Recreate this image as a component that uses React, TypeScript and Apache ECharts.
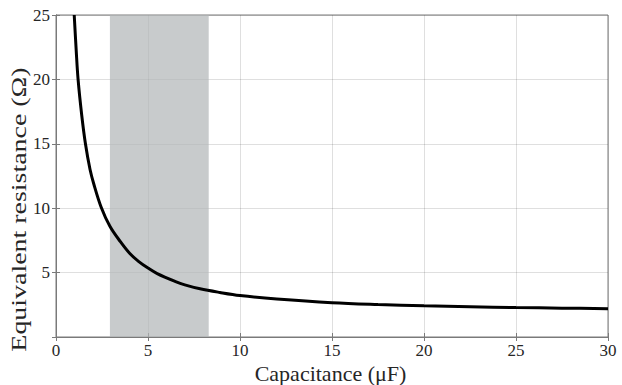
import React, { useEffect, useRef } from "react";
import * as echarts from "echarts";

// Capacitance (µF) and the equivalent resistance (Ω) it gives
const capacitance = [0.99, 1.1, 1.2, 1.4, 1.6, 1.85, 2.05, 2.45, 2.93, 3.5, 4.0, 4.5, 5.0, 5.5, 6.5, 7.0, 7.83, 8.9, 10, 12, 15, 17.5, 20, 22.5, 25, 27.5, 30];
const resistance = [25, 22.2, 20, 17.2, 15, 13.0, 11.9, 10.1, 8.6, 7.4, 6.5, 5.85, 5.35, 4.92, 4.3, 4.05, 3.74, 3.46, 3.22, 2.95, 2.66, 2.52, 2.42, 2.35, 2.29, 2.24, 2.2];

// Highlighted capacitance band (µF)
const bandRange = [2.93, 8.3];

const xTitle = "Capacitance (μF)";
const yTitle = "Equivalent resistance (Ω)";

const SERIF = "Liberation Serif";
const AXIS_COLOR = "#7a7a7a";
const TEXT_COLOR = "#262626";
const GRID_COLOR = "rgba(38,38,38,0.15)";

export default function App() {
  const ref = useRef<HTMLDivElement>(null);

  useEffect(() => {
    if (!ref.current) return;
    const chart = echarts.init(ref.current, undefined, { renderer: "svg" });
    const points = capacitance.map((c, i) => [c, resistance[i]]);

    const tickStyle = { inside: true, length: 4, lineStyle: { color: AXIS_COLOR } };
    const lineStyle = { show: true, lineStyle: { color: AXIS_COLOR, width: 1 } };

    chart.setOption({
      animation: false,
      grid: {
        left: 56,
        right: 14,
        top: 15,
        bottom: 48,
        show: true,
        borderColor: AXIS_COLOR,
        borderWidth: 1,
        backgroundColor: "transparent",
      },
      xAxis: [
        {
          type: "value",
          min: 0,
          max: 30,
          interval: 5,
          axisLine: lineStyle,
          axisTick: tickStyle,
          splitLine: { show: true, lineStyle: { color: GRID_COLOR, width: 1 } },
          axisLabel: { fontFamily: SERIF, fontSize: 17, color: TEXT_COLOR, margin: 5 },
        },
        {
          type: "value",
          position: "top",
          min: 0,
          max: 30,
          interval: 5,
          axisLine: lineStyle,
          axisTick: tickStyle,
          splitLine: { show: false },
          axisLabel: { show: false },
        },
      ],
      yAxis: [
        {
          type: "value",
          min: 0,
          max: 25,
          interval: 5,
          axisLine: lineStyle,
          axisTick: tickStyle,
          splitLine: { show: true, lineStyle: { color: GRID_COLOR, width: 1 } },
          axisLabel: {
            fontFamily: SERIF,
            fontSize: 17,
            color: TEXT_COLOR,
            margin: 6,
            formatter: (v: number) => (v === 0 ? "" : String(v)),
          },
        },
        {
          type: "value",
          position: "right",
          min: 0,
          max: 25,
          interval: 5,
          axisLine: lineStyle,
          axisTick: tickStyle,
          splitLine: { show: false },
          axisLabel: { show: false },
        },
      ],
      series: [
        {
          type: "line",
          data: points,
          z: 1,
          showSymbol: false,
          silent: true,
          lineStyle: { width: 0, opacity: 0 },
          markArea: {
            silent: true,
            itemStyle: { color: "rgba(176,181,182,0.7)" },
            data: [[{ xAxis: bandRange[0] }, { xAxis: bandRange[1] }]],
          },
        },
        {
          type: "line",
          data: points,
          z: 3,
          showSymbol: false,
          smooth: 0.35,
          lineStyle: { color: "#000000", width: 3 },
        },
      ],
      graphic: [
        {
          type: "text",
          x: 330.5,
          y: 373,
          style: {
            text: xTitle,
            fontFamily: SERIF,
            fontSize: 22,
            fill: TEXT_COLOR,
            align: "center",
            verticalAlign: "middle",
          },
        },
        {
          type: "text",
          x: 18.5,
          y: 209.5,
          rotation: Math.PI / 2,
          scaleX: 1.27,
          style: {
            text: yTitle,
            fontFamily: SERIF,
            fontSize: 22,
            fill: TEXT_COLOR,
            align: "center",
            verticalAlign: "middle",
          },
        },
      ],
    });

    return () => chart.dispose();
  }, []);

  return (
    <div
      ref={ref}
      style={{ position: "fixed", left: 0, top: 0, width: 622, height: 385, background: "#ffffff" }}
    />
  );
}
